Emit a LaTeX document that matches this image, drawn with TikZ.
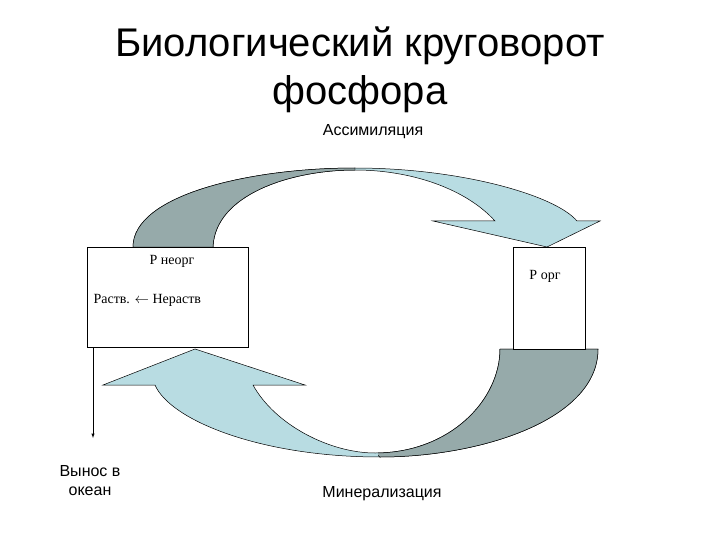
\documentclass[tikz,border=0pt]{standalone}
\usepackage{fontspec}
\setmainfont{Liberation Serif}
\newfontfamily\arialf{Liberation Sans}
\begin{document}
\begin{tikzpicture}[x=1pt,y=-1pt,
  lbl/.style={font=\arialf\fontsize{16}{19}\selectfont},
  ttl/.style={font=\arialf\fontsize{40}{48}\selectfont,align=center},
  ser/.style={font=\fontsize{14}{16}\selectfont},
  box/.style={draw,fill=white,line width=0.6pt},
  light/.style={fill={rgb,255:red,184;green,220;blue,226},draw=black,line width=0.5pt}]
\useasboundingbox (0,0) rectangle (720,540);
\definecolor{darkc}{RGB}{150,170,170}
% top arrow
\path[light] (133,247) .. controls (133,195) and (250,168) .. (355,168) .. controls (460,168) and (555,195) .. (577,221) -- (600,221) -- (547,247) -- (433,221) -- (495,221) .. controls (465,188) and (410,170) .. (355,170) .. controls (290,170) and (215,195) .. (213,247) -- cycle;
\begin{scope}
\clip (0,0) rectangle (355,260);
\path[fill=darkc,draw=black,line width=0.5pt] (133,247) .. controls (133,195) and (250,168) .. (355,168) -- (355,170) .. controls (290,170) and (215,195) .. (213,247) -- cycle;
\end{scope}
% bottom arrow
\path[light] (598,349) .. controls (598,420) and (480,457) .. (380,457) .. controls (260,457) and (170,420) .. (155,385) -- (103,385) -- (195,349) -- (305,385) -- (253,385) .. controls (275,425) and (330,453) .. (375,453) .. controls (450,453) and (500,400) .. (500,349) -- cycle;
\begin{scope}
\clip (378,340) rectangle (610,470);
\path[fill=darkc,draw=black,line width=0.5pt] (598,349) .. controls (598,420) and (480,457) .. (380,457) -- (375,453) .. controls (450,453) and (500,400) .. (500,349) -- cycle;
\end{scope}
% boxes
\node[box,minimum width=161,minimum height=100,inner sep=0,anchor=north west] (L) at (87,247) {};
\node[box,minimum width=72,minimum height=102,inner sep=0,anchor=north west] (R) at (513,247) {};
\node[ser] (pn) at (172,261) {Р неорг};
\node[ser,anchor=west] (rn) at (90,300) {Раств. $\leftarrow$ Нераств};
\node[ser] (po) at (545,276) {Р орг};
\coordinate (ds) at (93,347);
\coordinate (de) at (93,438);
\draw[-latex,line width=0.5pt] (ds) -- (de);
% texts
\node[ttl] (t) at (360,70) {Биологический круговорот\\фосфора};
\node[lbl] (a) at (373,132) {Ассимиляция};
\node[lbl] (m) at (382,494) {Минерализация};
\node[lbl,align=center] (v) at (90,481) {Вынос в\\океан};
\end{tikzpicture}
\end{document}
